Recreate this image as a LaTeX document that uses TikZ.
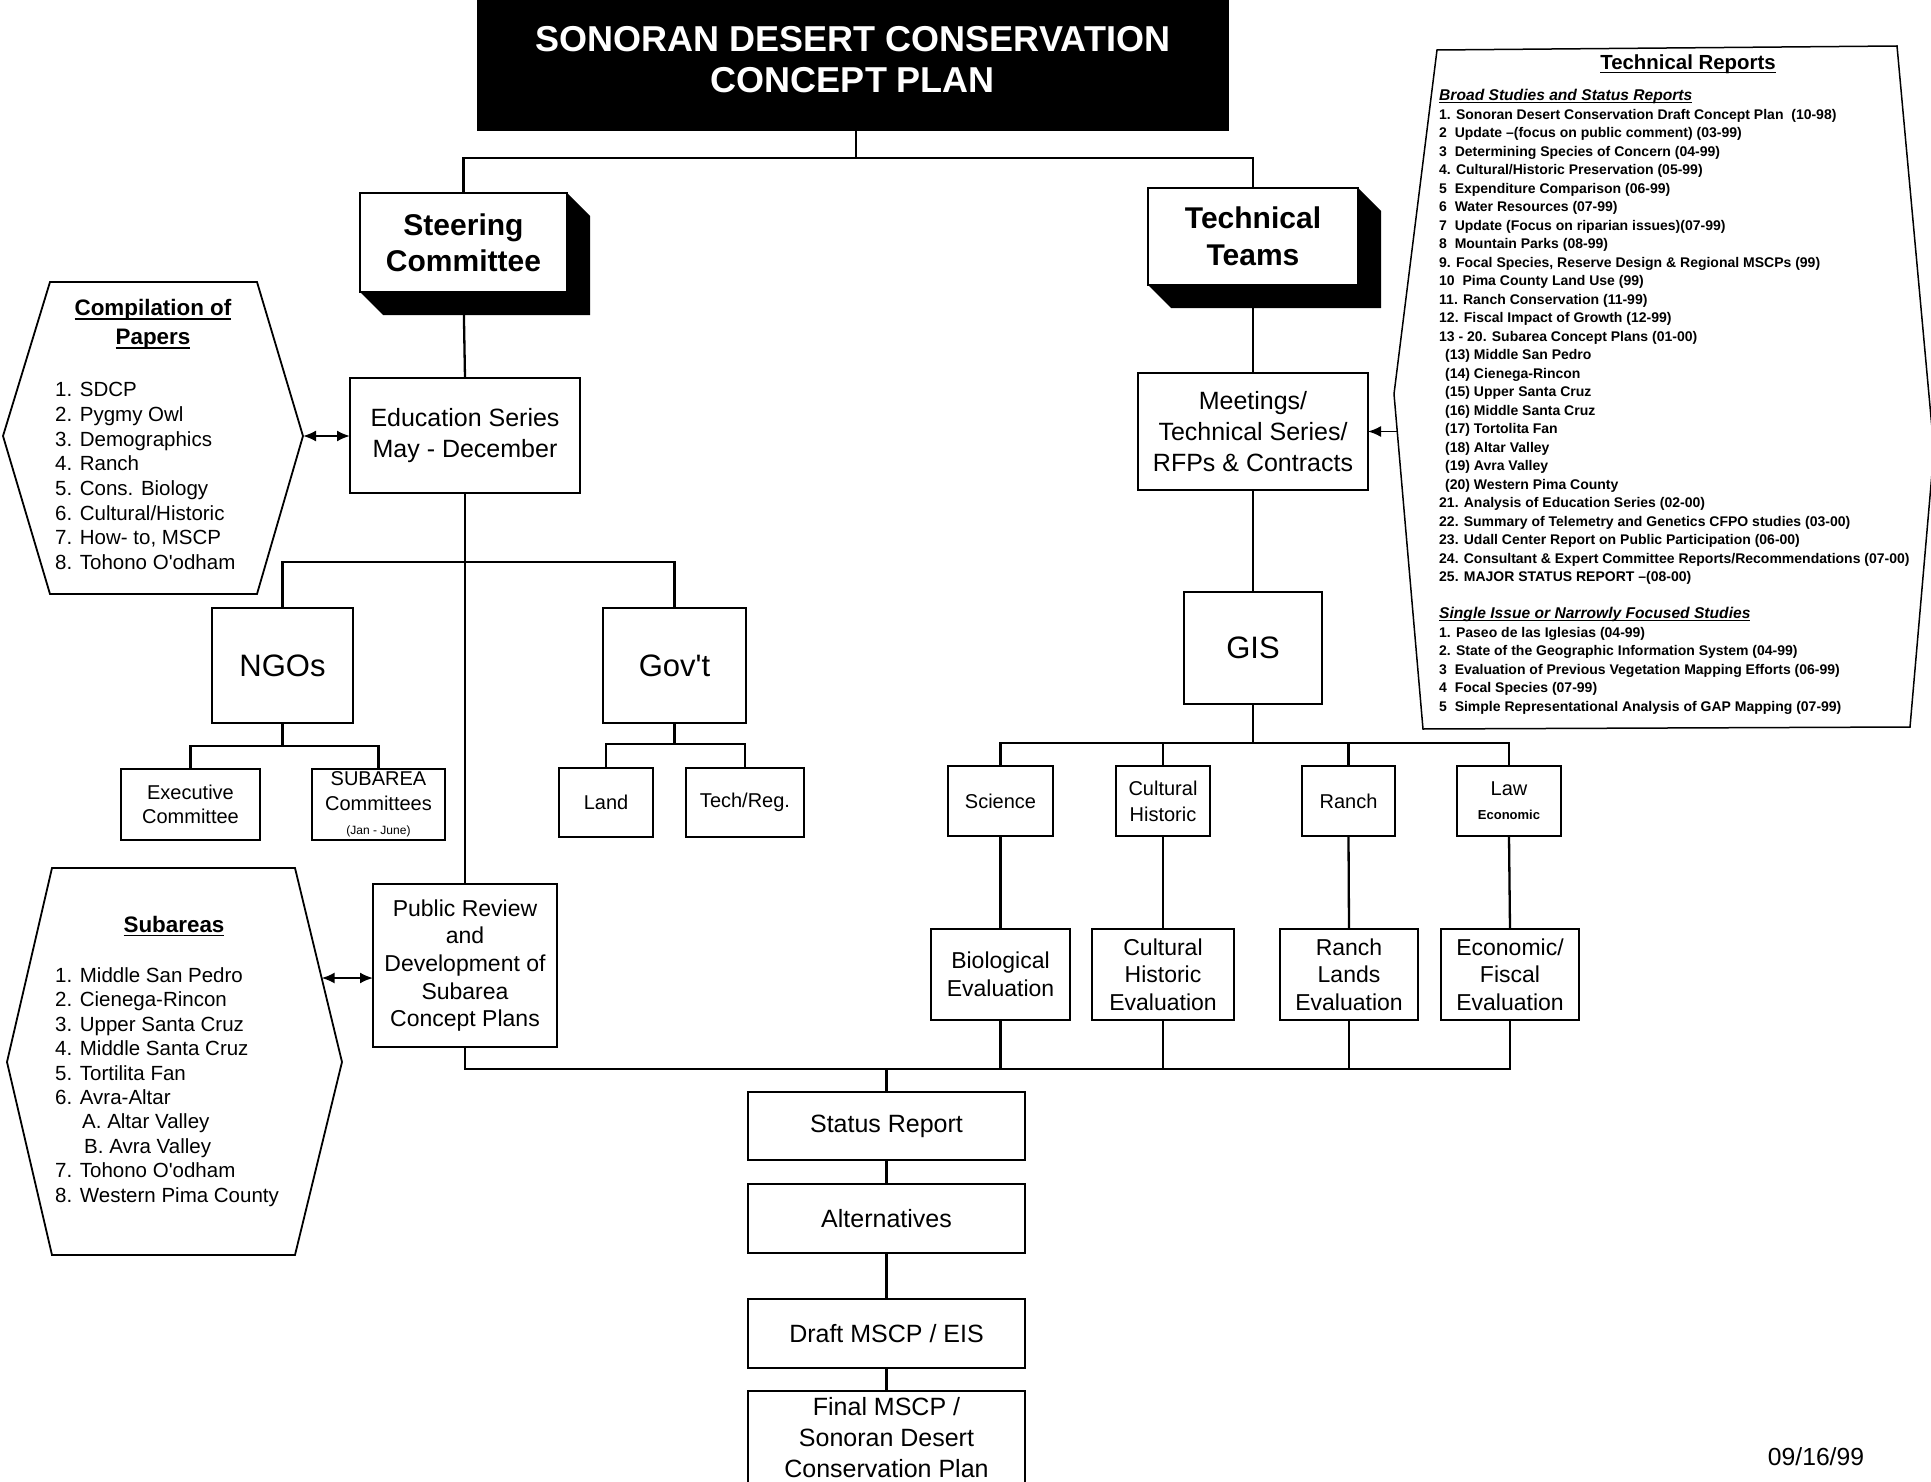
\documentclass[tikz,border=0pt]{standalone}
\usepackage{fontspec}
\setmainfont{Liberation Sans}[Ligatures=TeXOff]
\newsavebox\ulbox
\newcommand\uline[1]{\leavevmode\sbox\ulbox{#1}\rlap{\vrule width\wd\ulbox height -0.11em depth 0.18em}\usebox\ulbox}
\usetikzlibrary{arrows.meta}
\pgfdeclarelayer{bg}
\pgfsetlayers{bg,main}
\newcommand\fsz[2]{\fontsize{#1}{#2}\selectfont}
\newcommand\mybox[6][]{\node[box,minimum width={(#4)-(#2)},minimum height={(#5)-(#3)},#1] (#6) at ({((#2)+(#4))/2},{((#3)+(#5))/2})}
\tikzset{
  box/.style={draw,line width=1.8pt,fill=white,inner sep=0pt,outer sep=0pt,align=center},
  conn/.style={line width=2.3pt},
  hexa/.style={line width=1.8pt},
  dbl/.style={line width=2pt,{Latex[length=13pt,width=11pt]}-{Latex[length=13pt,width=11pt]}},
  sgl/.style={line width=1.6pt,-{Latex[length=13pt,width=11pt]}},
  shadow3d/.style={fill=black}
}
\begin{document}
\begin{tikzpicture}[x=1pt,y=-1pt]
\useasboundingbox (0,0) rectangle (1931,1482);
\begin{pgfonlayer}{bg}
\fill[white] (0,0) rectangle (1931,1482);
\end{pgfonlayer}

% title
\node[fill=black,minimum width=752,minimum height=131,inner sep=0pt,outer sep=0pt] (title) at (853,65.5) {};
\node[text=white,font=\bfseries\fsz{36}{41},align=center] (titletext) at (853,60) {SONORAN DESERT CONSERVATION\\CONCEPT PLAN};

% 3D boxes
\mybox[font=\bfseries\fsz{30}{36}]{360}{193}{567}{292}{steer}{Steering\\Committee};
\mybox[font=\bfseries\fsz{30}{37}]{1148}{188}{1358}{285}{tech}{Technical\\Teams};
\foreach \n in {steer,tech}{
  \fill[shadow3d] (\n.north east) -- ([shift={(23,23)}]\n.north east) -- ([shift={(23,23)}]\n.south east) -- ([shift={(23,23)}]\n.south west) -- (\n.south west) -- (\n.south east) -- cycle;
}

% left column
\mybox[font=\fsz{25}{31}]{350}{378}{580}{493}{edu}{Education Series\\May - December};
\mybox[font=\fsz{31}{36}]{212}{608}{353}{723}{ngo}{NGOs};
\mybox[font=\fsz{31}{36}]{603}{608}{746}{723}{gov}{Gov't};
\mybox[font=\fsz{20}{24.6}]{121}{769}{260}{840}{exec}{Executive\\Committee};
\mybox[font=\fsz{20}{24.6}]{312}{769}{445}{840}{subc}{SUBAREA\\Committees\\{\fsz{12}{14}(Jan - June)}};
\mybox[font=\fsz{20}{24}]{559}{768}{653}{837}{land}{Land};
\mybox[font=\fsz{20}{24}]{686}{768}{804}{837}{techreg}{Tech/Reg.};
\mybox[font=\fsz{23}{27.7}]{373}{884}{557}{1047}{pub}{Public Review\\and\\Development of\\Subarea\\Concept Plans};

% right column
\mybox[font=\fsz{25}{31}]{1138}{373}{1368}{490}{meet}{Meetings/\\Technical Series/\\RFPs \& Contracts};
\mybox[font=\fsz{31}{36}]{1184}{592}{1322}{704}{gis}{GIS};
\mybox[font=\fsz{20}{26}]{948}{766}{1053}{836}{sci}{Science};
\mybox[font=\fsz{20}{26}]{1116}{766}{1210}{836}{cult}{Cultural\\Historic};
\mybox[font=\fsz{20}{26}]{1302}{766}{1395}{836}{ranch}{Ranch};
\mybox[font=\fsz{20}{24}]{1457}{766}{1561}{836}{law}{Law\\{\bfseries\fsz{13}{15}Economic}};
\mybox[font=\fsz{23}{27.5}]{931}{929}{1070}{1020}{bio}{Biological\\Evaluation};
\mybox[font=\fsz{23}{27.5}]{1092}{929}{1234}{1020}{cev}{Cultural\\Historic\\Evaluation};
\mybox[font=\fsz{23}{27.5}]{1280}{929}{1418}{1020}{rev}{Ranch\\Lands\\Evaluation};
\mybox[font=\fsz{23}{27.5}]{1441}{929}{1579}{1020}{econ}{Economic/\\Fiscal\\Evaluation};

% bottom chain
\mybox[font=\fsz{25}{31}]{748}{1092}{1025}{1160}{status}{Status Report};
\mybox[font=\fsz{25}{31}]{748}{1184}{1025}{1253}{alt}{Alternatives};
\mybox[font=\fsz{25}{31}]{748}{1299}{1025}{1368}{draft}{Draft MSCP / EIS};
\mybox[font=\fsz{25}{31}]{748}{1391}{1025}{1485}{final}{Final MSCP /\\Sonoran Desert\\Conservation Plan};

% compilation hexagon
\draw[hexa] (50,282) -- (257,282) -- (303,436) -- (257,594) -- (50,594) -- (3,436) -- cycle;
\coordinate (compR) at (303,436);
\node[font=\bfseries\fsz{22.4}{29},align=center] (comptitle) at (153,324.5) {\uline{Compilation of}\\\uline{Papers}};
\node[font=\fsz{20.5}{24.7},align=left,anchor=west,inner sep=0pt] (complist) at (55,476) {1. SDCP\\2. Pygmy Owl\\3. Demographics\\4. Ranch\\5. Cons. Biology\\6. Cultural/Historic\\7. How- to, MSCP\\8. Tohono O'odham};

% subareas hexagon
\draw[hexa] (52,868) -- (295,868) -- (342,1062) -- (295,1255) -- (52,1255) -- (7,1062) -- cycle;
\coordinate (subR) at (321.6,978);
\node[font=\bfseries\fsz{22.4}{29},align=center] (subtitle) at (174,926) {\uline{Subareas}};
\node[font=\fsz{20.5}{24.4},align=left,anchor=west,inner sep=0pt] (sublist) at (55,1087) {1. Middle San Pedro\\2. Cienega-Rincon\\3. Upper Santa Cruz\\4. Middle Santa Cruz\\5. Tortilita Fan\\6. Avra-Altar\\\hspace*{27pt}A. Altar Valley\\\hspace*{29pt}B. Avra Valley\\7. Tohono O'odham\\8. Western Pima County};

% technical reports
\draw[line width=1.5pt] (1437,50) -- (1897,46) -- (1934,450) -- (1910,727) -- (1423,729) -- (1394,394) -- cycle;
\coordinate (trL) at (1397,431.5);
\node[font=\bfseries\fsz{20.4}{24}] (trtitle) at (1688,64) {\uline{Technical Reports}};
\node[font=\bfseries\fsz{14}{18.5},align=left,anchor=north west,inner sep=0pt] (trlist) at (1439,89) {%
{\itshape\fsz{15.6}{18.5}\uline{Broad Studies and Status Reports}}\\
1. Sonoran Desert Conservation Draft Concept Plan\ \ (10-98)\\
2\ \ Update –(focus on public comment) (03-99)\\
3\ \ Determining Species of Concern (04-99)\\
4. Cultural/Historic Preservation (05-99)\\
5\ \ Expenditure Comparison (06-99)\\
6\ \ Water Resources (07-99)\\
7\ \ Update (Focus on riparian issues)(07-99)\\
8\ \ Mountain Parks (08-99)\\
9. Focal Species, Reserve Design \& Regional MSCPs (99)\\
10\ \ Pima County Land Use (99)\\
11. Ranch Conservation (11-99)\\
12. Fiscal Impact of Growth (12-99)\\
13 - 20. Subarea Concept Plans (01-00)\\
\hspace*{6pt}(13) Middle San Pedro\\
\hspace*{6pt}(14) Cienega-Rincon\\
\hspace*{6pt}(15) Upper Santa Cruz\\
\hspace*{6pt}(16) Middle Santa Cruz\\
\hspace*{6pt}(17) Tortolita Fan\\
\hspace*{6pt}(18) Altar Valley\\
\hspace*{6pt}(19) Avra Valley\\
\hspace*{6pt}(20) Western Pima County\\
21. Analysis of Education Series (02-00)\\
22. Summary of Telemetry and Genetics CFPO studies (03-00)\\
23. Udall Center Report on Public Participation (06-00)\\
24. Consultant \& Expert Committee Reports/Recommendations (07-00)\\
25. MAJOR STATUS REPORT –(08-00)\\
\mbox{}\\
{\itshape\fsz{15.6}{18.5}\uline{Single Issue or Narrowly Focused Studies}}\\
1. Paseo de las Iglesias (04-99)\\
2. State of the Geographic Information System (04-99)\\
3\ \ Evaluation of Previous Vegetation Mapping Efforts (06-99)\\
4\ \ Focal Species (07-99)\\
5\ \ Simple Representational Analysis of GAP Mapping (07-99)};

% date
\node[font=\fsz{24.7}{28}] (date) at (1816,1457) {09/16/99};

% connectors
\begin{pgfonlayer}{bg}
\draw[conn] (title.south -| 856,0) -- (856,158);
\draw[conn] (steer.north) -- ++(0,-35) -| (tech.north);
\draw[conn] (steer.south) -- (edu.north);
\draw[conn] (edu.south) -- (pub.north);
\draw[conn] (ngo.north) -- ++(0,-46) -| (gov.north);
\draw[conn] (ngo.south) -- ++(0,23);
\draw[conn] (exec.north) -- ++(0,-23) -| (subc.north);
\draw[conn] (gov.south) -- ++(0,22);
\draw[conn] (land.north) -- ++(0,-24) -| (techreg.north);
\draw[conn] (tech.south) -- (meet.north);
\draw[conn] (meet.south) -- (gis.north);
\draw[conn] (gis.south) -- ++(0,39);
\draw[conn] (sci.north) -- ++(0,-23) -| (law.north);
\draw[conn] (cult.north) -- ++(0,-23);
\draw[conn] (ranch.north) -- ++(0,-23);
\draw[conn] (sci.south) -- (bio.north);
\draw[conn] (cult.south) -- (cev.north);
\draw[conn] (ranch.south) -- (rev.north);
\draw[conn] (law.south) -- (econ.north);
\draw[conn] (pub.south) -- ++(0,22) -| (econ.south);
\draw[conn] (bio.south) -- ++(0,49);
\draw[conn] (cev.south) -- ++(0,49);
\draw[conn] (rev.south) -- ++(0,49);
\draw[conn] (status.north) -- ++(0,-23);
\draw[conn] (status.south) -- (alt.north);
\draw[conn] (alt.south) -- (draft.north);
\draw[conn] (draft.south) -- (final.north);
\end{pgfonlayer}
\draw[dbl] (compR) -- (edu.west |- compR);
\draw[dbl] (subR) -- (pub.west |- subR);
\draw[sgl] (trL) -- (meet.east);
\end{tikzpicture}
\end{document}
